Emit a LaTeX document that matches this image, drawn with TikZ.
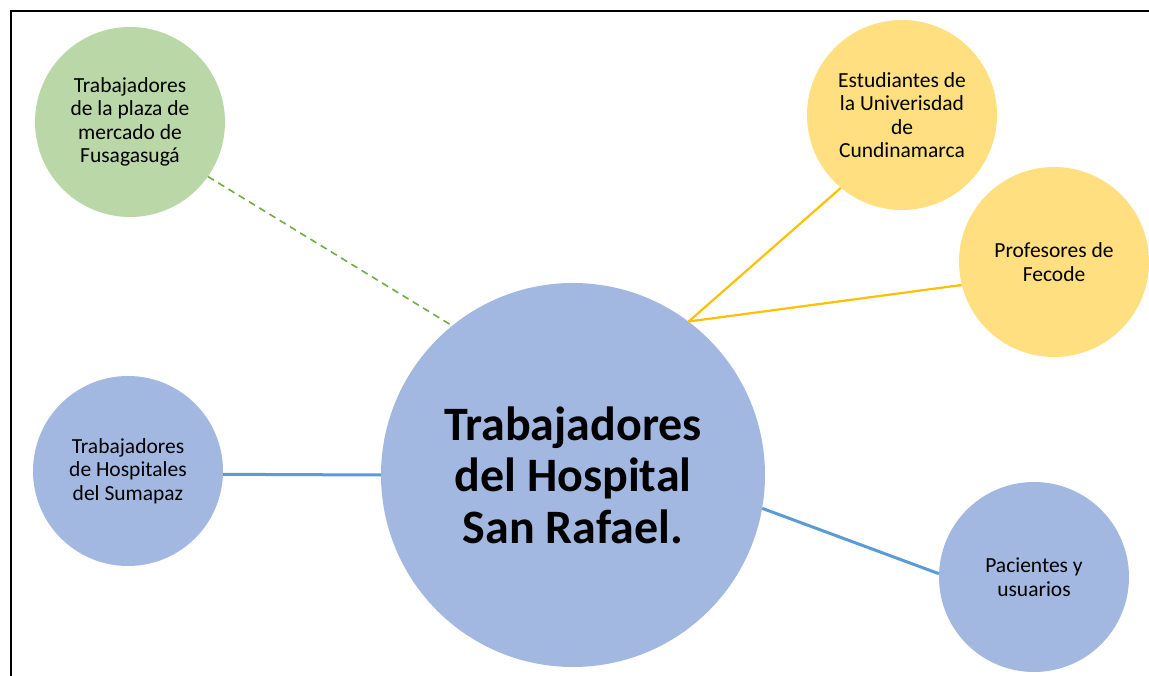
\documentclass[tikz,border=0pt]{standalone}
\usepackage{fontspec}
\setmainfont{Carlito}
\definecolor{bluefill}{HTML}{A3B8E0}
\definecolor{greenfill}{HTML}{B9D7A7}
\definecolor{yellowfill}{HTML}{FFDF80}
\definecolor{greenline}{HTML}{70AD47}
\definecolor{yellowline}{HTML}{FFC000}
\definecolor{blueline}{HTML}{5B9BD5}
\begin{document}
\begin{tikzpicture}[x=1pt,y=-1pt,
  bubble/.style={circle, inner sep=0pt, minimum size=190pt, align=center,
    font=\fontsize{21.5}{23.5}\selectfont, text=black},
  bigbubble/.style={circle, inner sep=0pt, minimum size=384pt, align=center,
    font=\fontsize{48}{51.5}\selectfont\bfseries, text=black, fill=bluefill},
  greenlink/.style={draw=greenline, line width=1.6pt, dash pattern=on 7pt off 5pt},
  yellowlink/.style={draw=yellowline, line width=2.2pt},
  bluelink/.style={draw=blueline, line width=3pt}]
\useasboundingbox (0,0) rectangle (1149,676);
\draw[line width=2pt] (11,676) -- (11,11.5) -- (1149,11.5);

\node[bigbubble] (c) at (573,475) {Trabajadores\\del Hospital\\San Rafael.};
\node[bubble, fill=greenfill] (g) at (130,122) {Trabajadores\\de la plaza de\\mercado de\\Fusagasugá};
\node[bubble, fill=bluefill] (l) at (128,471) {Trabajadores\\de Hospitales\\del Sumapaz};
\node[bubble, fill=yellowfill] (e) at (902,115) {Estudiantes de\\la Univerisdad\\de\\Cundinamarca};
\node[bubble, fill=yellowfill] (p) at (1054,262) {Profesores de\\Fecode};
\node[bubble, fill=bluefill] (u) at (1034,577) {Pacientes y\\usuarios};

\draw[greenlink] (g.-35) -- (c.129);
\draw[yellowlink] (c.53) -- (e.230);
\draw[yellowlink] (c.53) -- (p.194);
\draw[bluelink] (l.-2) -- (c.180);
\draw[bluelink] (c.-10.5) -- (u.178);
\end{tikzpicture}
\end{document}
